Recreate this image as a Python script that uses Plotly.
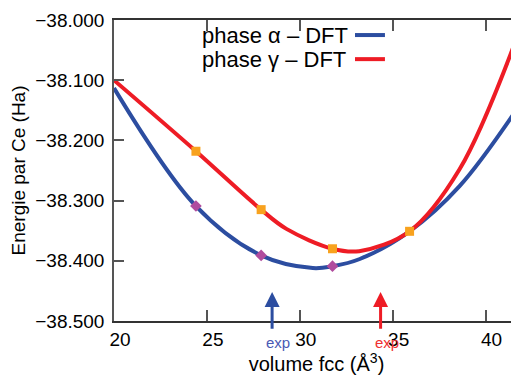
import plotly.graph_objects as go

# Volume (Å^3) and energy (Ha)
alpha_vol = [20.0, 24.41, 27.92, 30.7, 31.76, 33.23, 35.91, 38.60, 41.80]
alpha_E = [-38.113, -38.309, -38.391, -38.412, -38.409, -38.397, -38.351, -38.276, -38.143]

gamma_vol = [20.0, 24.41, 27.92, 29.28, 31.76, 33.20, 35.91, 38.60, 41.80]
gamma_E = [-38.100, -38.218, -38.315, -38.347, -38.380, -38.384, -38.351, -38.248, -38.020]

alpha_pts_vol = [24.41, 27.92, 31.76]
alpha_pts_E = [-38.309, -38.391, -38.409]
gamma_pts_vol = [24.41, 27.92, 31.76, 35.91]
gamma_pts_E = [-38.218, -38.315, -38.380, -38.351]

exp_alpha_vol = 28.51
exp_gamma_vol = 34.35

legend_labels = ["phase α – DFT", "phase γ – DFT"]

BLUE = "#2c4da0"
RED = "#ee1c25"
FONT = "Liberation Sans, Arial, sans-serif"

fig = go.Figure()
fig.add_trace(go.Scatter(x=alpha_vol, y=alpha_E, mode="lines", line=dict(color=BLUE, width=4, shape="spline", smoothing=1.0), showlegend=False))
fig.add_trace(go.Scatter(x=gamma_vol, y=gamma_E, mode="lines", line=dict(color=RED, width=4, shape="spline", smoothing=1.0), showlegend=False))
fig.add_trace(go.Scatter(x=alpha_pts_vol, y=alpha_pts_E, mode="markers", marker=dict(symbol="diamond", size=9, color="#b04c9e"), showlegend=False))
fig.add_trace(go.Scatter(x=gamma_pts_vol, y=gamma_pts_E, mode="markers", marker=dict(symbol="square", size=9, color="#f8a21e"), showlegend=False))
# invisible trace for the right-hand y axis ticks
fig.add_trace(go.Scatter(x=[20], y=[-38.5], mode="markers", marker=dict(opacity=0), yaxis="y2", showlegend=False, hoverinfo="skip"))

# experimental arrows
for v, c, tc in [(exp_alpha_vol, BLUE, "#4a5ab4"), (exp_gamma_vol, RED, "#f03030")]:
    fig.add_annotation(x=v, y=-38.4518, ax=v, ay=-38.5155, xref="x", yref="y", axref="x", ayref="y",
                       text="", showarrow=True, arrowhead=2, arrowsize=1, arrowwidth=3, arrowcolor=c, standoff=0)
    fig.add_annotation(x=v + 0.33, y=-0.07, xref="x", yref="paper", text="exp", showarrow=False,
                       yanchor="middle", font=dict(family=FONT, size=15, color=tc))

# legend (text then line sample)
for i, (lab, c) in enumerate(zip(legend_labels, [BLUE, RED])):
    yp = 0.950 - i * 0.080
    fig.add_annotation(x=0.212, y=yp, xref="paper", yref="paper", text=lab, showarrow=False,
                       xanchor="left", yanchor="middle", font=dict(family=FONT, size=22, color="black"))
    fig.add_shape(type="line", xref="paper", yref="paper", x0=0.595, x1=0.669, y0=yp, y1=yp,
                  line=dict(color=c, width=4))

axis_col = "#555555"
fig.update_layout(
    width=511, height=367,
    margin=dict(l=106, r=0, t=12, b=54),
    plot_bgcolor="white", paper_bgcolor="white",
    font=dict(family=FONT, size=19, color="black"),
    xaxis=dict(range=[20, 41.8], tickvals=[20, 25, 30, 35, 40], ticks="inside", ticklen=11,
               tickcolor=axis_col, tickwidth=1.5, showline=True, linecolor="#333333", linewidth=1.5,
               mirror="ticks", showgrid=False, zeroline=False, ticklabelshift=6,
               title=dict(text="volume fcc (Å<sup>3</sup>)", font=dict(size=20), standoff=4)),
    yaxis=dict(range=[-38.5, -38.0], dtick=0.1, tickformat=".3f", ticks="inside", ticklen=10,
               tickcolor=axis_col, tickwidth=1.5, showline=True, linecolor=axis_col, linewidth=1.5,
               mirror=False, showgrid=False, zeroline=False, ticklabelstandoff=4,
               title=dict(text="Energie par Ce (Ha)", font=dict(size=19), standoff=8)),
    yaxis2=dict(range=[-38.5, -38.0], dtick=0.1, overlaying="y", side="right", ticks="inside", ticklen=5,
                tickcolor=axis_col, tickwidth=1.5, showline=False, showticklabels=False, showgrid=False,
                zeroline=False),
)

fig.write_html("out.html")
